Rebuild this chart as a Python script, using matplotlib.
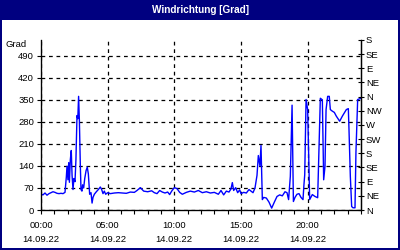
import matplotlib
matplotlib.use('Agg')
import matplotlib.pyplot as plt
import matplotlib.transforms as mtransforms
from matplotlib.patches import Rectangle

# Windrichtung über den Tag, Zeit in Stunden ab 00:00
stunden = [
    0.0, 0.15, 0.3, 0.45, 0.6, 0.75, 0.9, 1.05, 1.2, 1.35, 1.5, 1.65, 1.8,
    1.9, 1.95, 2.02, 2.08, 2.13, 2.2, 2.27, 2.33, 2.4, 2.47, 2.55, 2.62,
    2.7, 2.76, 2.82, 2.88, 2.95, 3.0, 3.07, 3.12, 3.2, 3.28, 3.38, 3.47,
    3.55, 3.65, 3.75, 3.83, 3.9, 4.0, 4.15, 4.3, 4.45, 4.55, 4.65, 4.75,
    4.85, 5.0, 5.2, 5.5, 5.8, 6.1, 6.4, 6.7, 7.0, 7.2, 7.45, 7.7, 8.0, 8.3,
    8.5, 8.7, 8.9, 9.1, 9.3, 9.5, 9.65, 9.8, 10.0, 10.2, 10.4, 10.6, 10.9,
    11.2, 11.5, 11.8, 12.1, 12.4, 12.7, 13.0, 13.3, 13.5, 13.7, 13.9, 14.1,
    14.25, 14.35, 14.45, 14.6, 14.75, 14.9, 15.0, 15.2, 15.4, 15.6, 15.75,
    15.9, 16.05, 16.2, 16.3, 16.42, 16.5, 16.6, 16.7, 16.9, 17.1, 17.3,
    17.5, 17.7, 17.9, 18.1, 18.3, 18.45, 18.57, 18.7, 18.78, 18.83, 18.93,
    19.05, 19.2, 19.35, 19.5, 19.65, 19.72, 19.78, 19.88, 20.0, 20.15,
    20.35, 20.55, 20.75, 20.95, 21.1, 21.2, 21.3, 21.38, 21.5, 21.62, 21.7,
    21.85, 22.0, 22.15, 22.4, 22.6, 22.9, 23.05, 23.1, 23.2, 23.3, 23.4,
    23.55, 23.62, 23.75, 23.95,
]
grad = [
    50, 48, 54, 47, 52, 55, 58, 56, 53, 52, 53, 52, 56,
    105, 139, 96, 150, 88, 160, 189, 110, 65, 100, 90, 160,
    300, 290, 361, 282, 140, 65, 60, 80, 70, 100, 125, 136,
    115, 50, 55, 22, 40, 50, 58, 65, 73, 65, 52, 60,
    50, 55, 52, 54, 55, 54, 53, 57, 56, 62, 71, 60, 58, 61,
    55, 52, 62, 57, 54, 57, 49, 60, 71, 68, 56, 50, 56,
    60, 57, 62, 55, 58, 54, 56, 50, 62, 48, 60, 57,
    67, 87, 62, 71, 55, 64, 52, 56, 54, 65, 60,
    55, 70, 110, 173, 140, 205, 33, 40, 38, 25, 6,
    25, 43, 48, 45, 58, 55, 33, 107, 255, 333, 27,
    40, 50, 52, 40, 33, 80, 112, 351, 319, 33,
    49, 43, 39, 355, 350, 96, 139, 319, 361, 361, 319,
    314, 310, 298, 282, 298, 319, 322, 255, 107, 11, 7,
    7, 182, 351, 354,
]

links_ticks = [0, 70, 140, 210, 280, 350, 420, 490]
rechts_ticks = [0, 45, 90, 135, 180, 225, 270, 315, 360, 405, 450, 495, 540]
rechts_labels = ['N', 'NE', 'E', 'SE', 'S', 'SW', 'W', 'NW', 'N', 'NE', 'E', 'SE', 'S']
x_ticks = [0, 5, 10, 15, 20]
x_labels = ['00:00\n14.09.22', '05:00\n14.09.22', '10:00\n14.09.22',
            '15:00\n14.09.22', '20:00\n14.09.22']

NAVY = '#000080'
FS = 6.8
plt.rcParams['font.family'] = ['Liberation Sans', 'DejaVu Sans']

fig = plt.figure(figsize=(4, 2.5), dpi=100, facecolor=NAVY)
# weisser Innenbereich unter dem Titelbalken
fig.patches.append(Rectangle((2/400, 2/250), 396/400, 228/250,
                             transform=fig.transFigure, facecolor='white',
                             edgecolor='none', zorder=-5))
fig.text(0.5, 1 - 10/250, 'Windrichtung [Grad]', color='white',
         fontsize=7.2, fontweight='bold', ha='center', va='center')

ax = fig.add_axes([41/400, 1 - 210/250, 320/400, 170/250])
ax.set_facecolor('white')
ax.plot(stunden, grad, color='#0000ff', lw=1)

ax.set_xlim(0, 24)
ax.set_ylim(0, 540)
ax.set_yticks(links_ticks)
ax.set_xticks(x_ticks)
ax.set_xticklabels(x_labels, linespacing=1.75)
ax.set_xticks(range(0, 25), minor=True)
ax.tick_params(axis='both', which='both', direction='out', length=3,
               width=0.8, labelsize=FS, pad=2)
ax.tick_params(axis='x', pad=5)
ax.grid(True, which='major', color='black', linestyle=(0, (3, 3)), lw=0.9)
ax.spines['top'].set_visible(False)
for s in ['left', 'bottom', 'right']:
    ax.spines[s].set_linewidth(0.9)

# "Grad" ueber der linken Achse
trans = mtransforms.blended_transform_factory(ax.transAxes, ax.transData)
ax.text(-0.044, 526, 'Grad', transform=trans, ha='right', va='center',
        fontsize=FS)

ax2 = ax.twinx()
ax2.set_ylim(0, 540)
ax2.set_yticks(rechts_ticks)
ax2.set_yticklabels(rechts_labels)
ax2.tick_params(axis='y', direction='inout', length=5, width=0.8,
                labelsize=FS, pad=1)
ax2.spines['top'].set_visible(False)
ax2.spines['right'].set_linewidth(0.9)

fig.savefig('out.png', dpi=100, facecolor=NAVY)
